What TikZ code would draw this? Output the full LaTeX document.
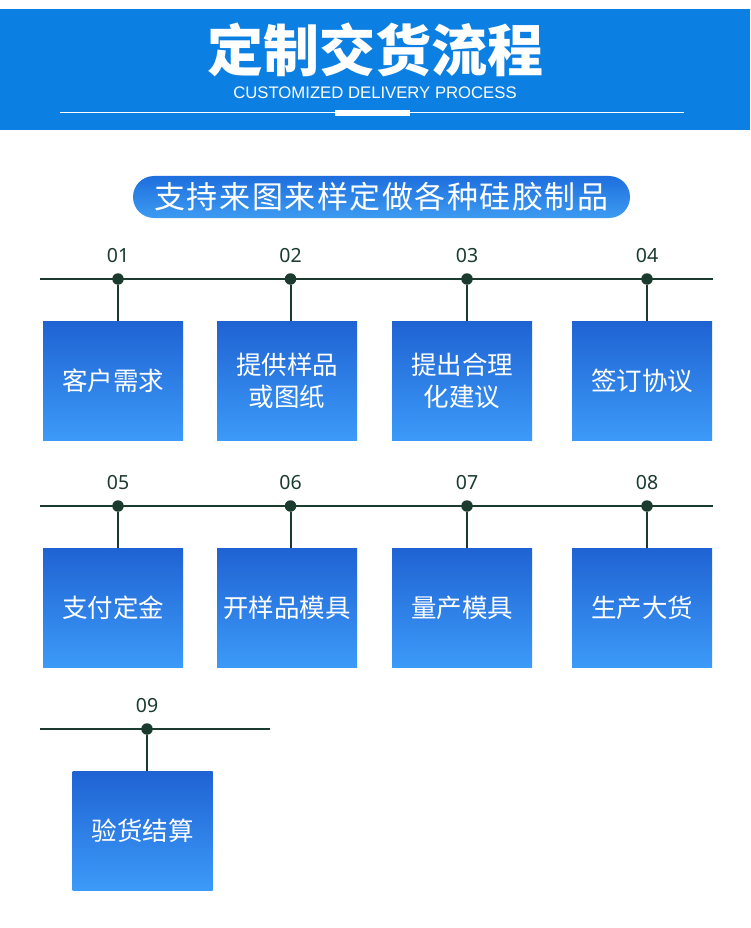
\documentclass[tikz,border=0pt]{standalone}
\usepackage{fontspec}
\newfontfamily\cjk{Noto Sans CJK SC}
\IfFontExistsTF{Noto Sans CJK SC Black}
  {\newfontfamily\cjkb{Noto Sans CJK SC Black}}
  {\IfFontExistsTF{Noto Sans CJK SC Bold}
    {\newfontfamily\cjkb{Noto Sans CJK SC Bold}}
    {\newfontfamily\cjkb{Noto Sans CJK SC}[FakeBold=3]}}
\newfontfamily\cjkspaced{Noto Sans CJK SC}[LetterSpace=5]
\newfontfamily\subf{Liberation Sans}
\newfontfamily\numf{Noto Sans}
\definecolor{hdr}{HTML}{0C7FE3}
\definecolor{boxtop}{HTML}{1F63D3}
\definecolor{boxbot}{HTML}{3C9AF8}
\definecolor{linec}{HTML}{1B3B2F}
\definecolor{bantop}{HTML}{1E6FDD}
\definecolor{banbot}{HTML}{3D9BF2}
\begin{document}
\begin{tikzpicture}[x=1pt,y=-1pt,
  stepbox/.style={rectangle, minimum width=140pt, minimum height=119pt, inner sep=0pt,
    top color=boxtop, bottom color=boxbot, text=white, align=center,
    font=\cjk\fontsize{25.5}{32}\selectfont},
  dotn/.style={circle, fill=linec, minimum size=11.5pt, inner sep=0pt},
  numlbl/.style={text=linec, inner sep=0pt, font=\numf\fontsize{19.5}{19.5}\selectfont},
  tl/.style={draw=linec, line width=2pt}]
\useasboundingbox (0,0) rectangle (750,928);
\fill[white] (0,0) rectangle (750,928);
% header band
\fill[hdr] (0,9) rectangle (750,130);
\node[text=white, inner sep=0pt, font=\cjkb\fontsize{56}{56}\selectfont] (title) at (375,50) {定制交货流程};
\node[text=white, inner sep=0pt, font=\subf\fontsize{16.7}{16.7}\selectfont] (sub) at (375,93) {CUSTOMIZED DELIVERY PROCESS};
\coordinate (hl) at (60,113);
\coordinate (hr) at (684,113);
\draw[white, line width=1pt] (hl) -- (hr);
\fill[white] (335,110) rectangle (410,116);
% banner
\node[rectangle, rounded corners=21pt, minimum width=497pt, minimum height=42pt, inner sep=0pt,
  top color=bantop, bottom color=banbot, text=white,
  font=\cjkspaced\fontsize{31}{31}\selectfont] (ban) at (381.5,197) {支持来图来样定做各种硅胶制品};
% row 1
\coordinate (r1l) at (40,279);
\coordinate (r1r) at (713,279);
\draw[tl] (r1l) -- (r1r);
\node[stepbox] (b1) at (113,380.5) {客户需求};
\node[stepbox] (b2) at (287,380.5) {提供样品\\或图纸};
\node[stepbox] (b3) at (462,380.5) {提出合理\\化建议};
\node[stepbox] (b4) at (642,380.5) {签订协议};
\node[dotn] (d1) at (118,279) {};
\node[dotn] (d2) at (290.5,279) {};
\node[dotn] (d3) at (467,279) {};
\node[dotn] (d4) at (647,279) {};
\draw[tl] (d1) -- (d1 |- b1.north);
\draw[tl] (d2) -- (d2 |- b2.north);
\draw[tl] (d3) -- (d3 |- b3.north);
\draw[tl] (d4) -- (d4 |- b4.north);
\node[numlbl] (n1) at (118,256) {01};
\node[numlbl] (n2) at (290.5,256) {02};
\node[numlbl] (n3) at (467,256) {03};
\node[numlbl] (n4) at (647,256) {04};
% row 2
\coordinate (r2l) at (40,506);
\coordinate (r2r) at (713,506);
\draw[tl] (r2l) -- (r2r);
\node[stepbox] (b5) at (113,607.5) {支付定金};
\node[stepbox] (b6) at (287,607.5) {开样品模具};
\node[stepbox] (b7) at (462,607.5) {量产模具};
\node[stepbox] (b8) at (642,607.5) {生产大货};
\node[dotn] (d5) at (118,506) {};
\node[dotn] (d6) at (290.5,506) {};
\node[dotn] (d7) at (467,506) {};
\node[dotn] (d8) at (647,506) {};
\draw[tl] (d5) -- (d5 |- b5.north);
\draw[tl] (d6) -- (d6 |- b6.north);
\draw[tl] (d7) -- (d7 |- b7.north);
\draw[tl] (d8) -- (d8 |- b8.north);
\node[numlbl] (n5) at (118,483) {05};
\node[numlbl] (n6) at (290.5,483) {06};
\node[numlbl] (n7) at (467,483) {07};
\node[numlbl] (n8) at (647,483) {08};
% row 3
\coordinate (r3l) at (40,729);
\coordinate (r3r) at (270,729);
\draw[tl] (r3l) -- (r3r);
\node[stepbox] (b9) at (142.5,830.5) {验货结算};
\node[dotn] (d9) at (147,729) {};
\draw[tl] (d9) -- (d9 |- b9.north);
\node[numlbl] (n9) at (147,705.5) {09};
\end{tikzpicture}
\end{document}
